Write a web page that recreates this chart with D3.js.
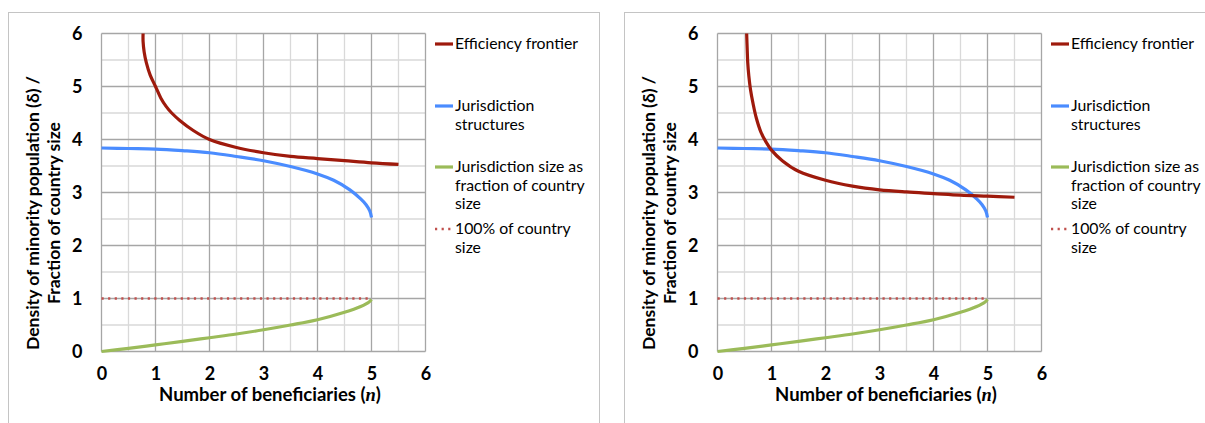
<!DOCTYPE html>
<html>
<head>
<meta charset="utf-8">
<script src="https://cdn.jsdelivr.net/npm/d3@7"></script>
<style>
  body { margin: 0; background: #fff; }
  text { font-family: Lato, "Noto Sans", sans-serif; fill: #000; }
</style>
</head>
<body>
<div id="chart"></div>
<script>
// values
var xTicks = [0, 1, 2, 3, 4, 5, 6];
var yTicks = [0, 1, 2, 3, 4, 5, 6];

var frontierLeftX = [0.77, 0.77, 0.79, 0.83, 0.9, 1.0, 1.1, 1.2, 1.3, 1.45, 1.7, 2.0, 2.5, 3.0, 3.5, 4.0, 4.5, 5.0, 5.5];
var frontierLeftY = [6.0, 5.85, 5.65, 5.45, 5.22, 5.0, 4.78, 4.62, 4.5, 4.36, 4.17, 4.0, 3.85, 3.75, 3.68, 3.64, 3.6, 3.56, 3.53];

var frontierRightX = [0.54, 0.55, 0.56, 0.58, 0.61, 0.66, 0.72, 0.8, 0.9, 1.0, 1.2, 1.5, 2.0, 2.5, 3.0, 3.5, 4.0, 4.5, 5.0, 5.5];
var frontierRightY = [6.0, 5.7, 5.45, 5.2, 4.95, 4.67, 4.4, 4.15, 3.95, 3.8, 3.6, 3.4, 3.23, 3.12, 3.05, 3.01, 2.98, 2.95, 2.93, 2.91];

var structX = [0, 0.5, 1, 1.5, 2, 2.5, 3, 3.5, 4, 4.3, 4.6, 4.8, 4.9, 4.97, 5.0];
var structY = [3.84, 3.83, 3.82, 3.79, 3.75, 3.68, 3.6, 3.49, 3.35, 3.23, 3.05, 2.88, 2.77, 2.65, 2.53];

var sizeX = [0, 0.5, 1, 1.5, 2, 2.5, 3, 3.5, 4, 4.5, 4.8, 4.95, 5.0];
var sizeY = [0, 0.06, 0.125, 0.19, 0.26, 0.33, 0.41, 0.5, 0.6, 0.74, 0.85, 0.93, 0.98];

var fullX = [0, 5];
var fullY = [1, 1];

var legendNames = [
  ["Efficiency frontier"],
  ["Jurisdiction", "structures"],
  ["Jurisdiction size as", "fraction of country", "size"],
  ["100% of country", "size"]
];

var colors = ["#9e1a0c", "#4a8cff", "#9bbb59", "#c0504d"];

var W = 1205, H = 423;

var svg = d3.select("#chart").append("svg")
    .attr("width", W)
    .attr("height", H);

function zip(xs, ys) {
  return xs.map(function(d, i) { return [d, ys[i]]; });
}

function drawPanel(ox, frontX, frontY, boxW) {
  var g = svg.append("g").attr("transform", "translate(" + ox + ",0)");

  g.append("rect")
      .attr("x", 8.5).attr("y", 12.5)
      .attr("width", boxW).attr("height", 440)
      .attr("fill", "none")
      .attr("stroke", "#c4c4c4");

  var x = d3.scaleLinear().domain([0, 6]).range([101.5, 425.5]);
  var y = d3.scaleLinear().domain([0, 6]).range([351.5, 33.5]);

  var half = d3.range(0.5, 6, 1);

  // minor grid
  g.selectAll(".vminor").data(half).enter().append("line")
      .attr("x1", function(d) { return x(d); }).attr("x2", function(d) { return x(d); })
      .attr("y1", y(0)).attr("y2", y(6))
      .attr("stroke", "#d9d9d9").attr("stroke-width", 1.3);
  g.selectAll(".hminor").data(half).enter().append("line")
      .attr("y1", function(d) { return y(d); }).attr("y2", function(d) { return y(d); })
      .attr("x1", x(0)).attr("x2", x(6))
      .attr("stroke", "#d9d9d9").attr("stroke-width", 1.3);

  // major grid
  g.selectAll(".vmajor").data(xTicks).enter().append("line")
      .attr("x1", function(d) { return x(d); }).attr("x2", function(d) { return x(d); })
      .attr("y1", y(0)).attr("y2", y(6))
      .attr("stroke", "#a6a6a6").attr("stroke-width", 1.3);
  g.selectAll(".hmajor").data(yTicks).enter().append("line")
      .attr("y1", function(d) { return y(d); }).attr("y2", function(d) { return y(d); })
      .attr("x1", x(0)).attr("x2", x(6))
      .attr("stroke", "#a6a6a6").attr("stroke-width", 1.3);

  // tick labels
  g.append("g")
      .attr("transform", "translate(" + x(0) + ",0)")
      .call(d3.axisLeft(y).tickValues(yTicks).tickSize(0).tickPadding(19).tickFormat(d3.format("d")));
  g.append("g")
      .attr("transform", "translate(0," + y(0) + ")")
      .call(d3.axisBottom(x).tickValues(xTicks).tickSize(0).tickPadding(16).tickFormat(d3.format("d")));
  g.selectAll(".domain").remove();
  g.selectAll(".tick text")
      .style("font-family", "Lato, sans-serif")
      .style("font-size", "18px")
      .style("font-weight", "bold")
      .attr("fill", "#000");

  var line = d3.line()
      .x(function(d) { return x(d[0]); })
      .y(function(d) { return y(d[1]); })
      .curve(d3.curveCatmullRom.alpha(0.5));

  g.append("path")
      .datum(zip(fullX, fullY))
      .attr("d", line)
      .attr("fill", "none")
      .attr("stroke", colors[3])
      .attr("stroke-width", 2.5)
      .attr("stroke-dasharray", "2.2,4.4");

  g.append("path")
      .datum(zip(sizeX, sizeY))
      .attr("d", line)
      .attr("fill", "none")
      .attr("stroke", colors[2])
      .attr("stroke-width", 3.2);

  g.append("path")
      .datum(zip(structX, structY))
      .attr("d", line)
      .attr("fill", "none")
      .attr("stroke", colors[1])
      .attr("stroke-width", 3.2);

  g.append("path")
      .datum(zip(frontX, frontY))
      .attr("d", line)
      .attr("fill", "none")
      .attr("stroke", colors[0])
      .attr("stroke-width", 3.2);

  // axis titles
  var xt = g.append("text")
      .attr("x", 270).attr("y", 401)
      .attr("text-anchor", "middle")
      .style("font-size", "18.5px")
      .style("font-weight", "bold");
  xt.append("tspan").text("Number of beneficiaries (");
  xt.append("tspan").text("n").style("font-family", "'Liberation Serif', serif").style("font-style", "italic");
  xt.append("tspan").text(")");

  var yt = g.append("text")
      .attr("transform", "translate(39,213) rotate(-90)")
      .attr("text-anchor", "middle")
      .style("font-size", "17.5px")
      .style("font-weight", "bold");
  yt.append("tspan").attr("x", 0).attr("y", 0).text("Density of minority population (\u03b4) /");
  yt.append("tspan").attr("x", 0).attr("y", 21).text("Fraction of country size");

  // legend
  var legTop = [44, 106, 167, 229];
  var leg = g.selectAll(".leg").data(legendNames).enter().append("g")
      .attr("transform", function(d, i) { return "translate(435," + legTop[i] + ")"; });
  leg.append("line")
      .attr("x1", 0).attr("x2", 18)
      .attr("stroke", function(d, i) { return colors[i]; })
      .attr("stroke-width", function(d, i) { return i == 3 ? 2.5 : 3.2; })
      .attr("stroke-dasharray", function(d, i) { return i == 3 ? "2.2,4.4" : null; });
  leg.each(function(d) {
    var t = d3.select(this).append("text")
        .attr("x", 20).attr("y", 5)
        .style("font-size", "15.8px");
    d.forEach(function(s, j) {
      t.append("tspan").attr("x", 20).attr("dy", j == 0 ? 0 : 18.7).text(s);
    });
  });
}

drawPanel(0, frontierLeftX, frontierLeftY, 591);
drawPanel(616, frontierRightX, frontierRightY, 700);
</script>
</body>
</html>
